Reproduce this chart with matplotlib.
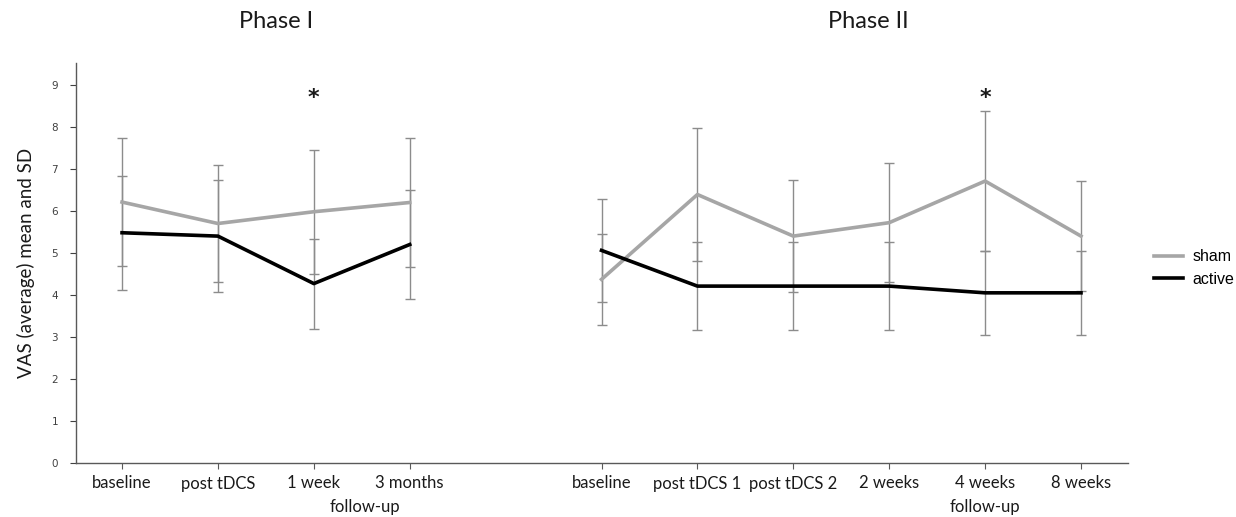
import numpy as np
import matplotlib.pyplot as plt
from matplotlib.lines import Line2D

# Phase I
p1_labels = ["baseline", "post tDCS", "1 week", "3 months"]
p1_sham = [6.21, 5.70, 5.98, 6.20]
p1_sham_sd = [1.53, 1.40, 1.48, 1.54]
p1_active = [5.48, 5.40, 4.27, 5.20]
p1_active_sd = [1.36, 1.33, 1.07, 1.29]

# Phase II
p2_labels = ["baseline", "post tDCS 1", "post tDCS 2", "2 weeks", "4 weeks", "8 weeks"]
p2_sham = [4.37, 6.39, 5.40, 5.72, 6.71, 5.40]
p2_sham_sd = [1.08, 1.59, 1.33, 1.42, 1.67, 1.31]
p2_active = [5.06, 4.21, 4.21, 4.21, 4.05, 4.05]
p2_active_sd = [1.23, 1.05, 1.05, 1.05, 1.00, 1.00]

sham_color = "#a6a6a6"
active_color = "#000000"
err_color = "#8c8c8c"
txt = "#1a1a1a"
lab_size = 12

fig = plt.figure(figsize=(12.36, 5.17), dpi=100)
ax = fig.add_axes([76 / 1236, 1 - 463 / 517, (1128 - 76) / 1236, (463 - 63) / 517])

x1 = np.arange(len(p1_labels))
x2 = np.arange(len(p2_labels)) + len(p1_labels) + 1

for xs, sham, ssd, act, asd in [(x1, p1_sham, p1_sham_sd, p1_active, p1_active_sd),
                                (x2, p2_sham, p2_sham_sd, p2_active, p2_active_sd)]:
    ax.errorbar(xs, sham, yerr=ssd, fmt="none", ecolor=err_color, elinewidth=1,
                capsize=3.5, capthick=1, zorder=1)
    ax.errorbar(xs, act, yerr=asd, fmt="none", ecolor=err_color, elinewidth=1,
                capsize=3.5, capthick=1, zorder=1)
    ax.plot(xs, sham, color=sham_color, lw=2.6, zorder=2)
    ax.plot(xs, act, color=active_color, lw=2.6, zorder=3)

ax.set_xlim(-0.48, x2[-1] + 0.49)
ax.set_ylim(0, 9.52)
ax.set_yticks(range(10))
ax.set_xticks(np.concatenate([x1, x2]))
ax.set_xticklabels(p1_labels + p2_labels, fontsize=lab_size, family="Lato", color=txt)
ax.tick_params(axis="y", labelsize=7.5, colors="#404040", length=4, pad=9, width=0.8)
ax.tick_params(axis="x", length=4, pad=5, width=0.8, color="#595959")
for s in ["top", "right"]:
    ax.spines[s].set_visible(False)
for s in ["left", "bottom"]:
    ax.spines[s].set_color("#595959")
    ax.spines[s].set_linewidth(1)

ax.set_ylabel("VAS (average) mean and SD", fontsize=13.5, family="Lato", labelpad=12, color=txt)

# follow-up labels and significance stars
ax.text(2.53, -1.05, "follow-up", ha="center", va="center", fontsize=lab_size, family="Lato",
        color=txt)
ax.text(x2[4], -1.05, "follow-up", ha="center", va="center", fontsize=lab_size, family="Lato",
        color=txt)
ax.text(x1[2], 8.68, "*", ha="center", va="center", fontsize=16, color=txt,
        family="DejaVu Sans", fontweight="bold")
ax.text(x2[4], 8.68, "*", ha="center", va="center", fontsize=16, color=txt,
        family="DejaVu Sans", fontweight="bold")

fig.text(276 / 1236, 1 - 22 / 517, "Phase I", ha="center", va="center", fontsize=17,
         family="Lato", color=txt)
fig.text(868 / 1236, 1 - 22 / 517, "Phase II", ha="center", va="center", fontsize=17,
         family="Lato", color=txt)

handles = [Line2D([], [], color=sham_color, lw=2.6), Line2D([], [], color=active_color, lw=2.6)]
fig.legend(handles, ["sham", "active"], loc="center left", bbox_to_anchor=(1140 / 1236, 1 - 268 / 517),
           frameon=False, prop={"family": "Liberation Sans", "size": 11.5}, handlelength=1.8,
           handletextpad=0.6, labelspacing=0.45)

fig.savefig("out.png", dpi=100)
